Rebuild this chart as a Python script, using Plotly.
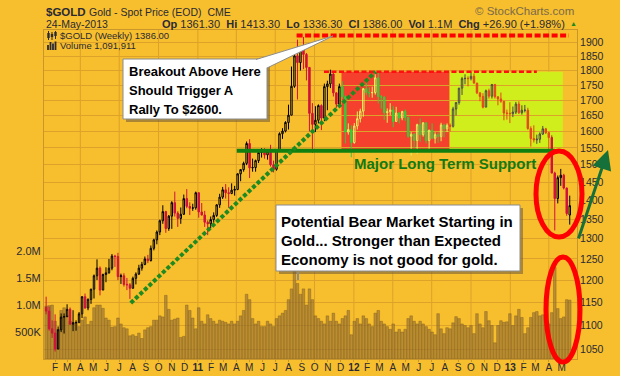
import math
import pandas as pd
import plotly.graph_objects as go

# ---------------- data (weekly, week starting Monday) ----------------
week_start = pd.date_range("2010-01-11", "2013-05-20", freq="W-MON")

open_2010 = [1138,1130,1092,1083,1050,1090,1117,1118,1134,1102,1105,1105,1124,1162,1137,1156,1179,1210,1228,1177,
             1213,1217,1228,1257,1256,1208,1210,1190,1189,1181,1204,1214,1228,1237,1250,1246,1276,1297,1317,1346,
             1370,1326,1358,1394,1366,1352,1363,1405,1384,1379,1380]
high_2010 = [1162,1140,1110,1123,1097,1125,1125,1145,1138,1132,1110,1128,1163,1169,1158,1180,1213,1249,1232,1215,
             1230,1250,1262,1260,1265,1215,1216,1205,1193,1208,1218,1236,1243,1256,1260,1283,1300,1321,1349,1387,
             1372,1361,1398,1424,1371,1381,1416,1431,1395,1391,1424]
low_2010 = [1123,1088,1073,1045,1050,1085,1082,1117,1100,1087,1088,1105,1115,1135,1132,1146,1158,1200,1165,1177,
            1195,1215,1223,1231,1200,1191,1185,1177,1157,1181,1190,1212,1222,1235,1240,1244,1271,1286,1309,1338,
            1315,1320,1325,1357,1330,1338,1361,1379,1361,1372,1375]
close_2010 = [1130,1092,1083,1050,1090,1117,1118,1134,1102,1105,1105,1124,1162,1137,1156,1179,1210,1228,1177,1213,
              1217,1228,1257,1256,1208,1210,1190,1189,1181,1204,1214,1228,1237,1250,1246,1276,1297,1317,1346,1370,
              1326,1358,1394,1366,1352,1363,1405,1384,1379,1380,1421]

open_2011 = [1421,1369,1361,1342,1338,1349,1360,1388,1409,1429,1421,1419,1428,1430,1474,1486,1504,1563,1491,1492,
             1512,1536,1542,1529,1540,1500,1487,1542,1593,1601,1628,1651,1746,1852,1828,1880,1857,1811,1657,1622,
             1635,1682,1642,1745,1754,1788,1724,1687,1745,1711,1598,1606]
high_2011 = [1422,1393,1372,1347,1357,1368,1390,1418,1437,1445,1436,1447,1440,1475,1487,1509,1569,1576,1518,1515,
             1537,1549,1549,1542,1559,1512,1545,1597,1610,1632,1685,1814,1881,1911,1884,1921,1862,1812,1690,1680,
             1686,1686,1755,1765,1803,1791,1725,1755,1763,1716,1625,1619]
low_2011 = [1354,1360,1330,1309,1327,1341,1356,1380,1404,1405,1380,1417,1413,1428,1453,1480,1499,1462,1480,1480,
            1505,1521,1518,1515,1495,1478,1483,1541,1577,1597,1606,1651,1741,1702,1800,1805,1766,1600,1535,1598,
            1625,1604,1632,1667,1740,1712,1675,1680,1704,1563,1590,1522]
close_2011 = [1369,1361,1342,1338,1349,1360,1388,1409,1429,1421,1419,1428,1430,1474,1486,1504,1563,1491,1492,1512,
              1536,1542,1529,1540,1500,1487,1542,1593,1601,1628,1651,1746,1852,1828,1880,1857,1811,1657,1622,1635,
              1682,1642,1745,1754,1788,1724,1687,1745,1711,1598,1606,1566]

open_2012 = [1566,1617,1640,1664,1738,1725,1724,1725,1775,1711,1710,1659,1662,1668,1631,1658,1642,1663,1644,1585,
             1591,1572,1621,1590,1627,1572,1604,1579,1590,1584,1620,1608,1619,1616,1671,1692,1740,1772,1773,1772,
             1780,1757,1724,1712,1677,1731,1713,1752,1711,1704,1696,1658]
high_2012 = [1626,1663,1672,1740,1764,1743,1745,1790,1792,1717,1713,1673,1690,1681,1678,1661,1665,1670,1646,1598,
             1595,1624,1641,1628,1628,1604,1625,1597,1597,1627,1624,1625,1625,1678,1692,1740,1778,1787,1780,1796,
             1790,1757,1725,1723,1735,1738,1754,1754,1712,1725,1697,1669]
low_2012 = [1562,1606,1628,1646,1716,1709,1708,1718,1689,1672,1636,1627,1651,1613,1630,1625,1635,1633,1580,1527,
            1549,1532,1568,1584,1563,1547,1576,1563,1565,1570,1582,1598,1600,1612,1650,1685,1717,1753,1746,1766,
            1755,1720,1696,1673,1677,1705,1705,1705,1683,1691,1635,1637]
close_2012 = [1617,1640,1664,1738,1725,1724,1725,1775,1711,1710,1659,1662,1668,1631,1658,1642,1663,1644,1585,1591,
              1572,1621,1590,1627,1572,1604,1579,1590,1584,1620,1608,1619,1616,1671,1692,1740,1772,1773,1772,1780,
              1757,1724,1712,1677,1731,1713,1752,1711,1704,1696,1658,1657]

open_2013 = [1657,1656,1661,1687,1659,1667,1667,1609,1578,1574,1576,1592,1608,1596,1581,1476,1405,1463,1470,1434,1361]
high_2013 = [1693,1679,1694,1696,1683,1684,1675,1616,1619,1590,1597,1617,1611,1599,1588,1480,1469,1488,1474,1435,1413]
low_2013 = [1626,1645,1655,1655,1653,1660,1605,1554,1566,1562,1565,1589,1592,1539,1476,1321,1392,1440,1430,1359,1336]
close_2013 = [1656,1661,1687,1659,1667,1667,1609,1578,1574,1576,1592,1608,1596,1581,1476,1405,1463,1470,1434,1365,1386]

# weekly volume, thousands
volume_2010 = [980,990,1000,700,550,900,950,800,700,650,680,600,720,780,640,700,950,1000,1000,940,
               760,720,590,600,760,650,580,560,430,450,420,480,380,540,580,600,720,720,800,780,
               1180,920,720,740,760,400,420,1000,900,760,560]
volume_2011 = [950,700,650,820,750,700,650,720,700,680,650,700,650,700,800,900,1200,1100,750,650,
               700,600,600,700,650,600,750,800,850,900,1100,1300,1700,1400,1200,1300,1000,1300,1100,800,
               750,700,650,800,700,850,700,650,750,800,900,450]
volume_2012 = [700,750,650,800,750,650,600,850,900,700,650,600,550,650,500,550,500,550,750,800,
               700,650,700,650,600,550,500,450,840,560,470,580,560,670,785,750,650,620,580,620,
               470,840,650,580,880,710,620,300,620,710,680,690]
volume_2013 = [840,620,800,920,770,470,580,770,860,880,800,820,700,650,860,1700,935,750,780,1100,1092]

opens = open_2010 + open_2011 + open_2012 + open_2013
highs = high_2010 + high_2011 + high_2012 + high_2013
lows = low_2010 + low_2011 + low_2012 + low_2013
closes = close_2010 + close_2011 + close_2012 + close_2013
volumes = [v * 1000 for v in volume_2010 + volume_2011 + volume_2012 + volume_2013]
n = min(len(week_start), len(opens), len(volumes))
week_start = week_start[:n]

price_ticks = list(range(1050, 1901, 50))
volume_ticks = [500000, 1000000, 1500000, 2000000]
volume_tick_text = ["500K", "1.0M", "1.5M", "2.0M"]

# annotation levels / dates
resistance = 1926
range_top = 1796
support = 1541
red_box = ("2011-12-03", "2012-08-12")
lime_box = ("2012-08-12", "2013-05-04")

# ---------------- styling ----------------
BG = "#F7BE2D"
GRID = "#DCA229"
BORDER = "#C8962A"
FONT = "Liberation Sans, Arial, sans-serif"
TXT = "#2A2A35"


def px(x):
    return (x - 44) / 533


def py(y):
    return (359 - y) / 329


fig = go.Figure()

fig.add_trace(go.Bar(
    x=week_start, y=volumes[:n], yaxis="y",
    marker=dict(color="rgba(150,112,50,0.62)", line=dict(color="rgba(105,78,30,0.55)", width=0.6)),
    hoverinfo="skip"))

segments = [
    ("2000-01-01", red_box[0], "#000000", "#D0123C"),
    (red_box[0], red_box[1], "#E4F25E", "#3CC83C"),
    (red_box[1], "2013-04-05", "#4A4A4A", "#E5461C"),
    ("2013-04-05", "2100-01-01", "#000000", "#D0123C"),
]
for s0, s1, inc_line, dec_col in segments:
    t0, t1 = pd.Timestamp(s0), pd.Timestamp(s1)
    idx = [i for i in range(n) if t0 <= week_start[i] < t1]
    fig.add_trace(go.Candlestick(
        x=[week_start[i] for i in idx],
        open=[opens[i] for i in idx], high=[highs[i] for i in idx],
        low=[lows[i] for i in idx], close=[closes[i] for i in idx],
        yaxis="y2", whiskerwidth=0,
        increasing=dict(line=dict(color=inc_line, width=1), fillcolor="rgba(0,0,0,0)"),
        decreasing=dict(line=dict(color=dec_col, width=1), fillcolor=dec_col),
        hoverinfo="skip"))

month_ticks = pd.date_range("2010-02-01", "2013-05-01", freq="MS")
month_text = ["<b>%s</b>" % d.strftime("%y") if d.month == 1 else "JFMAMJJASOND"[d.month - 1] for d in month_ticks]
quarters = pd.date_range("2010-04-01", "2013-04-01", freq="QS")

shapes = []
for q in quarters:
    shapes.append(dict(type="line", xref="x", yref="paper", x0=q, x1=q, y0=0, y1=1,
                       line=dict(color=GRID, width=1), layer="below"))
# shaded trading-range boxes
shapes.append(dict(type="rect", xref="x", yref="y2", x0=red_box[0], x1=red_box[1], y0=support, y1=range_top,
                   fillcolor="#F4402C", line=dict(width=0), layer="below"))
shapes.append(dict(type="rect", xref="x", yref="y2", x0=lime_box[0], x1=lime_box[1], y0=support + 4, y1=range_top,
                   fillcolor="#CFEE1C", line=dict(width=0), layer="below"))
# resistance dashes
shapes.append(dict(type="line", xref="x", yref="y2", x0="2011-08-20", x1="2013-05-18", y0=resistance, y1=resistance,
                   line=dict(color="#FF0000", width=4, dash="6px,2.5px")))
shapes.append(dict(type="line", xref="x", yref="y2", x0="2011-10-23", x1="2013-03-04", y0=range_top, y1=range_top,
                   line=dict(color="#FF1010", width=2.5, dash="5px,2.5px")))
# support
shapes.append(dict(type="line", xref="x", yref="y2", x0="2011-04-02", x1="2013-04-15", y0=support, y1=support,
                   line=dict(color="#118011", width=4)))
# trend line
shapes.append(dict(type="line", xref="x", yref="y2", x0="2010-07-28", x1="2012-02-21", y0=1148, y1=1796,
                   line=dict(color="#1F8A1F", width=4, dash="4px,2.2px")))
# ellipses
shapes.append(dict(type="circle", xref="paper", yref="paper", x0=px(536), x1=px(582), y0=py(237), y1=py(151),
                   line=dict(color="#FF0000", width=5)))
shapes.append(dict(type="circle", xref="paper", yref="paper", x0=px(546), x1=px(580), y0=py(362), y1=py(257),
                   line=dict(color="#FF0000", width=5)))
# callout boxes (shadow + box)
for (x0, y0, x1, y1) in [(123, 59, 267, 119), (276, 205, 520, 271)]:
    shapes.append(dict(type="rect", xref="paper", yref="paper", x0=px(x0 + 3), x1=px(x1 + 3), y0=py(y1 + 3),
                       y1=py(y0 + 3), fillcolor="rgba(110,90,60,0.55)", line=dict(width=0)))
    shapes.append(dict(type="rect", xref="paper", yref="paper", x0=px(x0), x1=px(x1), y0=py(y1), y1=py(y0),
                       fillcolor="white", line=dict(color="#8C8C8C", width=1)))
# callout pointer for box 1
shapes.append(dict(type="path", xref="paper", yref="paper",
                   path="M %f,%f L %f,%f L %f,%f" % (px(256), py(59.5), px(333), py(36), px(267), py(68)),
                   fillcolor="white", line=dict(color="#8C8C8C", width=1)))
shapes.append(dict(type="line", xref="paper", yref="paper", x0=px(298), x1=px(298), y0=py(272), y1=py(280),
                   line=dict(color="#8C8C8C", width=2)))

# small legend icons (candles / volume bars)
for (ix, top, bot, btop, bbot) in [(48.5, 31, 40, 33, 38), (52, 32, 40, 34, 37), (55.5, 31, 39, 32, 36)]:
    shapes.append(dict(type="line", xref="paper", yref="paper", x0=px(ix), x1=px(ix), y0=py(bot), y1=py(top),
                       line=dict(color="#2A2A35", width=1)))
    shapes.append(dict(type="rect", xref="paper", yref="paper", x0=px(ix - 1.2), x1=px(ix + 1.2), y0=py(bbot),
                       y1=py(btop), fillcolor="#2A2A35", line=dict(width=0)))
for (ix, top) in [(48, 45), (50.5, 42), (53, 43.5), (55.5, 41.5)]:
    shapes.append(dict(type="rect", xref="paper", yref="paper", x0=px(ix - 0.9), x1=px(ix + 0.9), y0=py(50),
                       y1=py(top), fillcolor="#2A2A35", line=dict(width=0)))

ann = []


def text(x, y, s, size, color=TXT, anchor="left", bold=False, yanchor="middle", family=FONT):
    ann.append(dict(xref="paper", yref="paper", x=px(x), y=py(y), text=("<b>%s</b>" % s) if bold else s,
                    showarrow=False, xanchor=anchor, yanchor=yanchor,
                    font=dict(size=size, color=color, family=family)))


text(44, 12, "$GOLD", 11.5, "#2A2A35", bold=True)
text(87, 12, "Gold - Spot Price (EOD)  CME", 10.5)
text(44, 24.5, "24-May-2013", 10.5)
text(567, 24.5, "<b>Op</b> 1361.30  <b>Hi</b> 1413.30  <b>Lo</b> 1336.30  <b>Cl</b> 1386.00  <b>Vol</b> 1.1M  "
     "<b>Chg</b> +26.90 (+1.98%)", 11, anchor="right")
text(573, 24, "▲", 7, "#1E8A1E", anchor="center")
text(576, 11, "© StockCharts.com", 11.5, "#7A6A4A", anchor="right")
text(58, 35.5, "$GOLD (Weekly) 1386.00", 9.5)
text(58, 45.5, "Volume 1,091,911", 9.5)

for i, line in enumerate(["Breakout Above Here", "Should Trigger A", "Rally To $2600."]):
    text(127, 72 + i * 18.6, line, 13, "#000000", bold=True)
for i, line in enumerate(["Potential Bear Market Starting in", "Gold... Stronger than Expected",
                          "Economy is not good for gold."]):
    text(279, 221 + i * 19.3, line, 15, "#000000", bold=True)
text(352, 163, "Major Long Term Support", 15, "#137A13", bold=True)

ann.append(dict(xref="paper", yref="paper", x=px(608), y=py(150), ax=-30, ay=90, text="", showarrow=True,
                arrowhead=2, arrowsize=1.3, arrowwidth=3, arrowcolor="#16703A"))

fig.update_layout(
    width=620, height=376,
    margin=dict(l=44, r=43, t=30, b=17, autoexpand=False),
    paper_bgcolor=BG, plot_bgcolor=BG,
    showlegend=False, bargap=0.12,
    shapes=shapes, annotations=ann,
    xaxis=dict(type="date", range=["2010-01-06", "2013-06-06"], tickvals=list(month_ticks), ticktext=month_text,
               showgrid=False, ticks="outside", ticklen=2, tickcolor=BORDER, zeroline=False, automargin=False,
               ticklabelstandoff=-3,
               tickfont=dict(size=10, color=TXT, family=FONT), showline=True, linecolor=BORDER, mirror=True,
               rangeslider=dict(visible=False)),
    yaxis=dict(range=[0, 6.1e6], tickvals=volume_ticks, ticktext=volume_tick_text, showgrid=False,
               zeroline=False, side="left", tickfont=dict(size=11, color=TXT, family=FONT), automargin=False,
               showline=True, linecolor=BORDER),
    yaxis2=dict(type="log", range=[math.log10(1030), math.log10(1947)], overlaying="y", side="right",
                tickvals=price_ticks, ticktext=[str(t) for t in price_ticks], showgrid=True, gridcolor=GRID,
                gridwidth=1, zeroline=False, tickfont=dict(size=10.5, color=TXT, family=FONT), automargin=False,
                showline=True, linecolor=BORDER),
)

fig.write_html("out.html", config={"displayModeBar": False, "staticPlot": True},
               post_script="document.body.style.margin='0';document.body.style.padding='0';")
